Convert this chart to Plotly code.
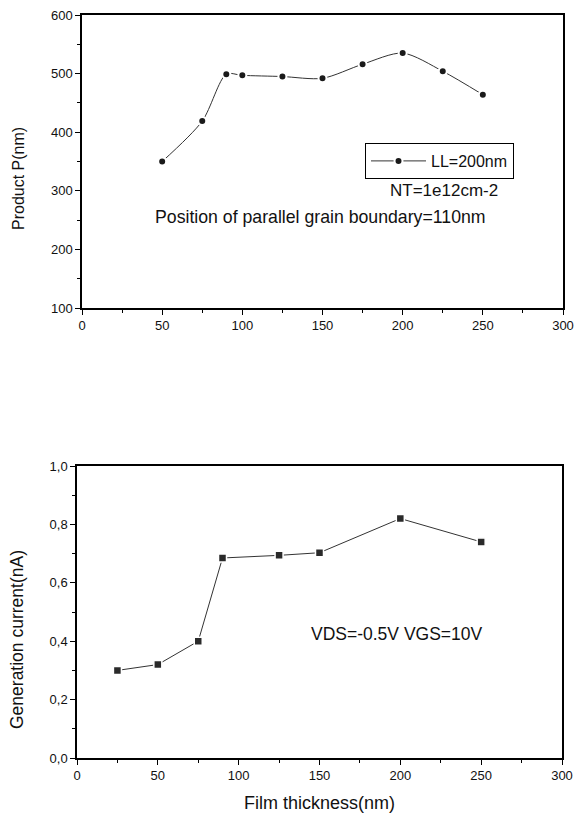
import plotly.graph_objects as go

# Top chart data
thick_top = [50, 75, 90, 100, 125, 150, 175, 200, 225, 250]
product_p = [350, 419, 499, 497, 495, 492, 516, 535, 504, 464]

# Bottom chart data
thick_bot = [25, 50, 75, 90, 125, 150, 200, 250]
gen_current = [0.30, 0.32, 0.40, 0.685, 0.694, 0.703, 0.82, 0.74]

top_yticks = [100, 200, 300, 400, 500, 600]
bot_yticks = [0.0, 0.2, 0.4, 0.6, 0.8, 1.0]
xticks = [0, 50, 100, 150, 200, 250, 300]

FONT = "Liberation Sans, Arial, sans-serif"
W, H = 575, 815

fig = go.Figure()
fig.add_trace(go.Scatter(
    x=thick_top, y=product_p, mode="lines+markers", name="LL=200nm",
    line=dict(color="#333333", width=1, shape="spline", smoothing=0.8),
    marker=dict(symbol="circle", size=8, color="#1a1a1a",
                line=dict(color="white", width=2)),
    xaxis="x", yaxis="y", showlegend=True,
))
fig.add_trace(go.Scatter(
    x=thick_bot, y=gen_current, mode="lines+markers", name="gen",
    line=dict(color="#333333", width=1),
    marker=dict(symbol="square", size=8, color="#2a2a2a",
                line=dict(color="white", width=1.5)),
    xaxis="x2", yaxis="y2", showlegend=False,
))

axis_common = dict(
    showline=True, linecolor="black", linewidth=1.5, mirror=True,
    ticks="outside", ticklen=5, tickwidth=1, tickcolor="black",
    showgrid=False, zeroline=False, automargin=False,
    ticklabeloverflow="allow",
    tickfont=dict(family=FONT, size=13, color="#111111"),
)

fig.update_layout(
    width=W, height=H,
    margin=dict(l=0, r=0, t=0, b=0, autoexpand=False),
    paper_bgcolor="white", plot_bgcolor="white",
    separators=", ",
    font=dict(family=FONT, color="#111111"),
    xaxis=dict(
        domain=[82 / W, 563 / W], anchor="y", range=[0, 300],
        tickvals=xticks,
        minor=dict(ticks="outside", ticklen=3, tickcolor="black", dtick=25),
        **axis_common),
    yaxis=dict(
        domain=[1 - 308 / H, 1 - 15 / H], anchor="x", range=[100, 600],
        tickvals=top_yticks,
        minor=dict(ticks="outside", ticklen=3, tickcolor="black", dtick=50),
        **axis_common),
    xaxis2=dict(
        domain=[77 / W, 562 / W], anchor="y2", range=[0, 300],
        tickvals=xticks,
        minor=dict(ticks="outside", ticklen=3, tickcolor="black", dtick=25),
        title=dict(text="Film thickness(nm)", font=dict(family=FONT, size=18), standoff=14),
        **axis_common),
    yaxis2=dict(
        domain=[1 - 758 / H, 1 - 466 / H], anchor="x2", range=[0, 1.0],
        tickvals=bot_yticks, tickformat=".1f",
        minor=dict(ticks="outside", ticklen=3, tickcolor="black", dtick=0.1),
        **axis_common),
    legend=dict(
        x=365 / W, y=1 - 143 / H, xanchor="left", yanchor="top",
        bordercolor="black", borderwidth=1, bgcolor="white",
        font=dict(family=FONT, size=16),
        itemwidth=55, tracegroupgap=0,
    ),
    annotations=[
        dict(text="Product P(nm)", x=18 / W, y=1 - 179 / H, xref="paper", yref="paper",
             xanchor="center", yanchor="middle",
             textangle=-90, showarrow=False, font=dict(family=FONT, size=16)),
        dict(text="Generation current(nA)", x=17 / W, y=1 - 640 / H, xref="paper",
             yref="paper", xanchor="center", yanchor="middle",
             textangle=-90, showarrow=False, font=dict(family=FONT, size=17.5)),
        dict(text="NT=1e12cm-2", x=226, y=301, xref="x", yref="y",
             showarrow=False, font=dict(family=FONT, size=17)),
        dict(text="Position of parallel grain boundary=110nm", x=149, y=255,
             xref="x", yref="y", showarrow=False, font=dict(family=FONT, size=17.7)),
        dict(text="VDS=-0.5V VGS=10V", x=198, y=0.425, xref="x2", yref="y2",
             showarrow=False, font=dict(family=FONT, size=17.5)),
    ],
)

fig.write_html("out.html")
